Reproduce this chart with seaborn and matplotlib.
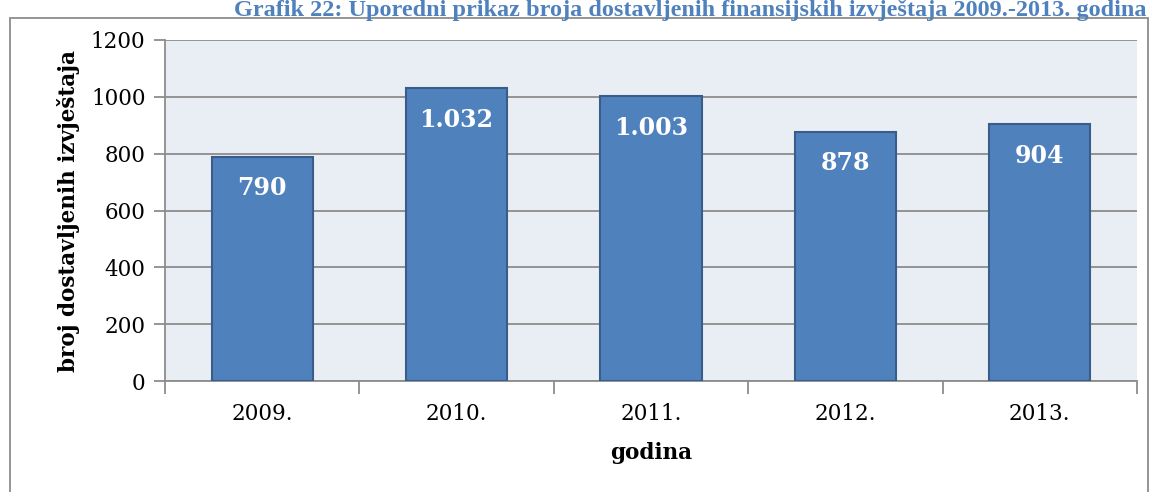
import numpy as np
import pandas as pd
import seaborn as sns
from matplotlib import pyplot as plt
from matplotlib.patches import Rectangle

godine = ['2009.', '2010.', '2011.', '2012.', '2013.']
izvjestaji = [790, 1032, 1003, 878, 904]
oznake = ['790', '1.032', '1.003', '878', '904']

sns.set_theme(style='white')
plt.rcParams['font.family'] = ['DejaVu Serif']
plt.rcParams['text.color'] = 'black'
plt.rcParams['xtick.color'] = 'black'
plt.rcParams['ytick.color'] = 'black'
plt.rcParams['axes.labelcolor'] = 'black'

df = pd.DataFrame({'godina': godine, 'broj': izvjestaji})

W, H = 1152, 492
fig = plt.figure(figsize=(W / 100, H / 100), dpi=100)
ax = fig.add_axes([165 / W, 1 - 381 / H, (1137 - 165) / W, (381 - 40) / H])
ax.set_facecolor('#E9EDF4')

sns.barplot(data=df, x='godina', y='broj', color='#4F81BD', saturation=1,
            width=0.52, edgecolor='#385D8A', linewidth=1.5, ax=ax, zorder=3)

ax.set_ylim(0, 1200)
ax.set_yticks(np.arange(0, 1201, 200))
ax.set_xlim(-0.5, 4.5)
ax.yaxis.grid(True, color='#8C8C8C', linewidth=1.3, zorder=0)
ax.set_axisbelow(True)
for s in ['top', 'right']:
    ax.spines[s].set_visible(False)
for s in ['left', 'bottom']:
    ax.spines[s].set_color('#8C8C8C')
    ax.spines[s].set_linewidth(1.3)

# x ticks between categories
ax.set_xticks(np.arange(-0.5, 5, 1), minor=True)
ax.tick_params(axis='x', which='minor', length=9, color='#8C8C8C', width=1.3, bottom=True)
ax.tick_params(axis='x', which='major', length=0, labelsize=15.5, pad=16)
ax.tick_params(axis='y', length=8, color='#8C8C8C', width=1.3, left=True, labelsize=15.5, pad=6)

for i, (v, t) in enumerate(zip(izvjestaji, oznake)):
    ax.annotate(t, (i, v), xytext=(0, -23), textcoords='offset points',
                ha='center', va='center', color='white', fontsize=17, fontweight='bold')

ax.set_xlabel('godina', fontsize=15.5, fontweight='bold', labelpad=12)
ax.set_ylabel('broj dostavljenih izvještaja', fontsize=15.5, fontweight='bold', labelpad=8)

# outer chart frame
fig.patches.append(Rectangle((10 / W, -0.05), (1148 - 10) / W, 1.05 - 18 / H,
                             transform=fig.transFigure, fill=False,
                             edgecolor='#8C8C8C', linewidth=1.3))

fig.text(690 / W, 1, 'Grafik 22: Uporedni prikaz broja dostavljenih finansijskih izvještaja 2009.-2013. godina',
         ha='center', va='top', color='#4F81BD', fontsize=17.5, fontweight='bold',
         family=['Liberation Serif'])

fig.savefig('out.png', dpi=100)
